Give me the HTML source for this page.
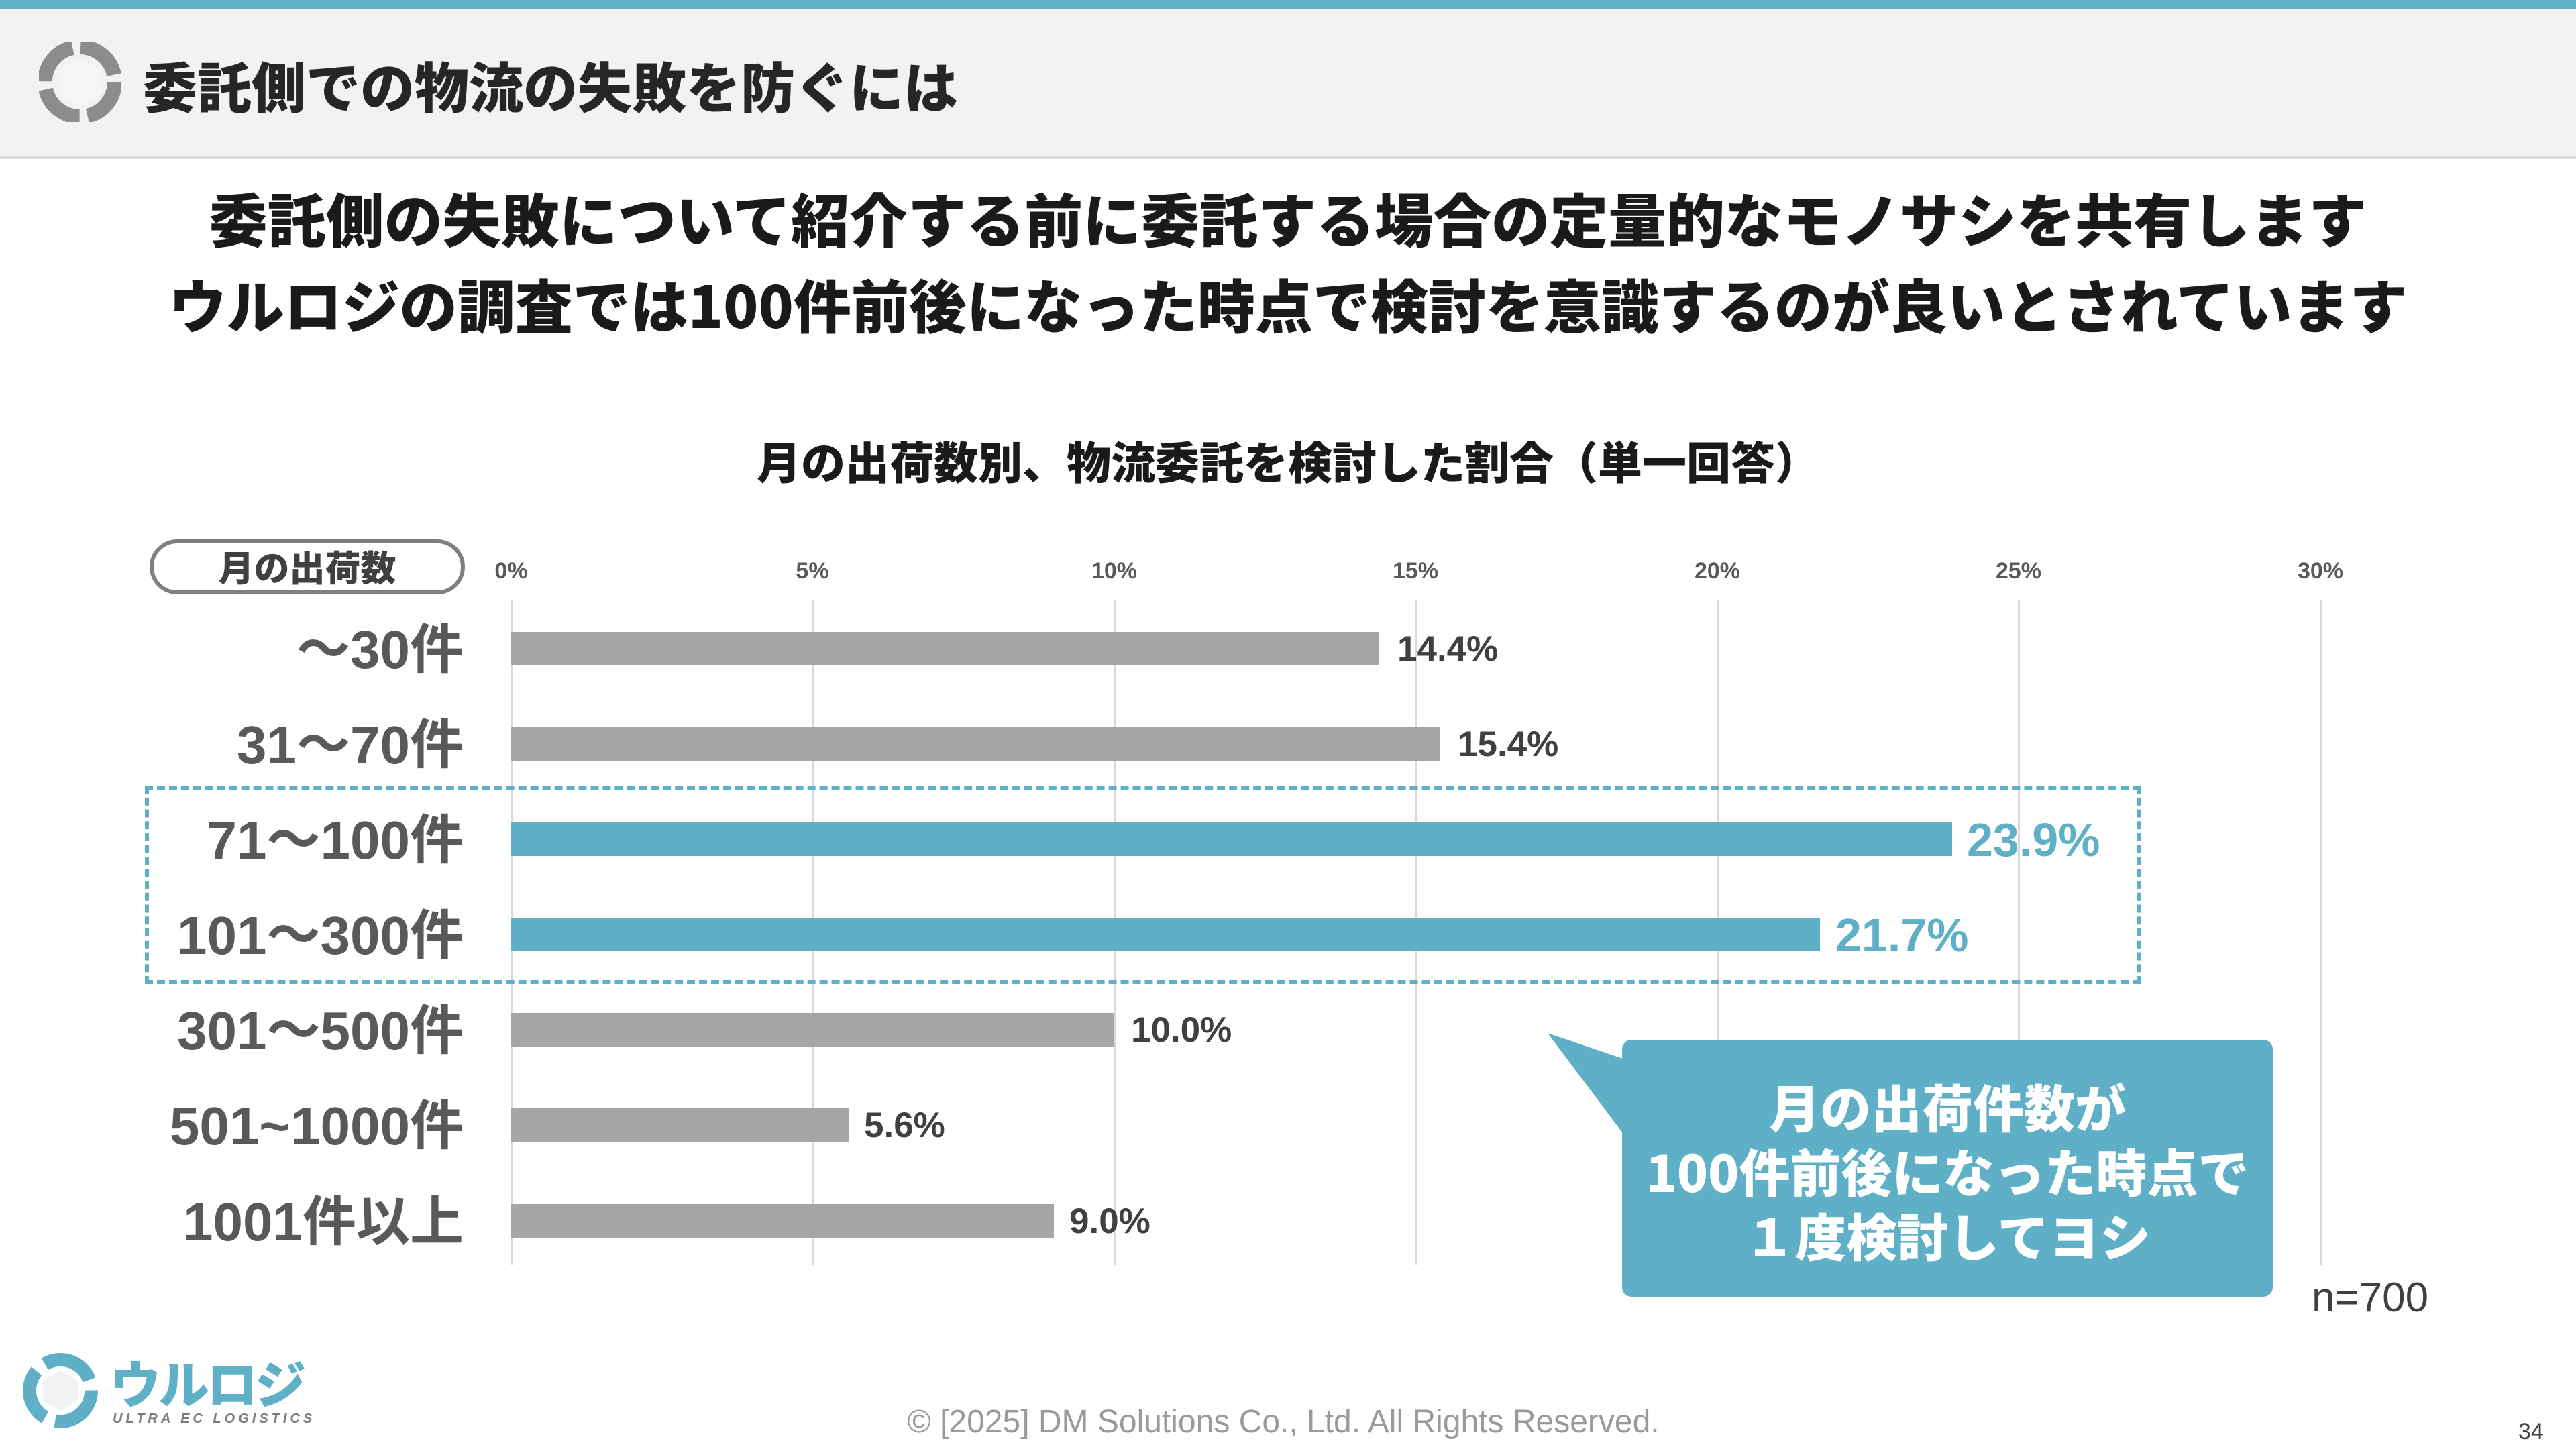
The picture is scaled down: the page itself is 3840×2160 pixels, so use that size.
<!DOCTYPE html>
<html><head><meta charset="utf-8">
<style>
html,body{margin:0;padding:0;}
body{width:3840px;height:2160px;position:relative;background:#fff;overflow:hidden;font-family:"Liberation Sans","Noto Sans CJK JP",sans-serif;}
.a{position:absolute;white-space:nowrap;}
.jp{font-family:"Noto Sans CJK JP","Liberation Sans",sans-serif;font-weight:900;}
.cat{position:absolute;right:3149px;font-size:80px;line-height:80px;color:#595959;font-weight:700;font-family:"Liberation Sans","Noto Sans CJK JP",sans-serif;}
.bar{position:absolute;left:762px;height:50px;background:#a6a6a6;}
.val{position:absolute;font-size:53px;line-height:53px;font-weight:700;color:#404040;}
.hv{font-size:70px;line-height:70px;color:#5fb0c6;}
.grid{position:absolute;top:894px;width:3px;height:992px;background:#d9d9d9;}
.tick{position:absolute;top:834px;font-size:34px;line-height:34px;font-weight:700;color:#595959;transform:translateX(-50%);}
</style></head><body>
<div class="a" style="left:0;top:0;width:3840px;height:14px;background:#60b0c6;"></div>
<div class="a" style="left:0;top:14px;width:3840px;height:218px;background:#f2f2f2;border-bottom:5px solid #dcdcdc;"></div>
<svg class="a" style="left:58px;top:62px" width="122" height="120" viewBox="0 0 122 120">
<circle cx="61" cy="60" r="52" fill="none" stroke="#8c8c8c" stroke-width="22" stroke-dasharray="70 12"/>
<polygon points="61,25 92,43 92,78 61,96 30,78 30,43" fill="#f5f5f5"/>
</svg>
<div class="a jp" style="left:213px;top:84px;font-size:81px;line-height:86px;color:#262626;">委託側での物流の失敗を防ぐには</div>
<div class="a jp" style="left:0;width:3840px;text-align:center;top:274px;font-size:87px;line-height:100px;color:#1a1a1a;">委託側の失敗について紹介する前に委託する場合の定量的なモノサシを共有します</div>
<div class="a jp" style="left:0;width:3840px;text-align:center;top:402px;font-size:86px;line-height:100px;color:#1a1a1a;">ウルロジの調査では100件前後になった時点で検討を意識するのが良いとされています</div>
<div class="a jp" style="left:0;width:3840px;text-align:center;top:648px;font-size:66px;line-height:76px;color:#1a1a1a;">月の出荷数別、物流委託を検討した割合（単一回答）</div>
<div class="a" style="left:223px;top:804px;width:470px;height:82px;border:6px solid #7f7f7f;border-radius:42px;box-sizing:border-box;"></div>
<div class="a jp" style="left:223px;width:470px;text-align:center;top:814px;font-size:53px;line-height:60px;color:#404040;">月の出荷数</div>
<div class="grid" style="left:761px"></div><div class="grid" style="left:1210px"></div><div class="grid" style="left:1660px"></div><div class="grid" style="left:2109px"></div><div class="grid" style="left:2559px"></div><div class="grid" style="left:3008px"></div><div class="grid" style="left:3458px"></div>
<div class="tick" style="left:762px">0%</div><div class="tick" style="left:1211px">5%</div><div class="tick" style="left:1661px">10%</div><div class="tick" style="left:2110px">15%</div><div class="tick" style="left:2560px">20%</div><div class="tick" style="left:3009px">25%</div><div class="tick" style="left:3459px">30%</div>
<div class="cat" style="top:929px">～30件</div>
<div class="cat" style="top:1071px">31～70件</div>
<div class="cat" style="top:1213px">71～100件</div>
<div class="cat" style="top:1355px">101～300件</div>
<div class="cat" style="top:1497px">301～500件</div>
<div class="cat" style="top:1639px">501~1000件</div>
<div class="cat" style="top:1782px">1001件以上</div>
<div class="bar" style="top:942px;width:1294px"></div>
<div class="bar" style="top:1084px;width:1384px"></div>
<div class="bar" style="top:1226px;width:2148px;background:#5fb0c6"></div>
<div class="bar" style="top:1368px;width:1951px;background:#5fb0c6"></div>
<div class="bar" style="top:1510px;width:899px"></div>
<div class="bar" style="top:1652px;width:503px"></div>
<div class="bar" style="top:1795px;width:809px"></div>
<div class="val" style="left:2083px;top:941px">14.4%</div>
<div class="val" style="left:2173px;top:1083px">15.4%</div>
<div class="val hv" style="left:2932px;top:1217px">23.9%</div>
<div class="val hv" style="left:2736px;top:1359px">21.7%</div>
<div class="val" style="left:1686px;top:1509px">10.0%</div>
<div class="val" style="left:1288px;top:1651px">5.6%</div>
<div class="val" style="left:1594px;top:1794px">9.0%</div>
<div class="a" style="left:216px;top:1171px;width:2975px;height:296px;border:6px dashed #5fb0c6;box-sizing:border-box;"></div>
<svg class="a" style="left:2300px;top:1530px" width="140" height="180"><polygon points="7,10 125,50 125,167" fill="#5fb0c6"/></svg>
<div class="a" style="left:2418px;top:1550px;width:970px;height:383px;background:#5fb0c6;border-radius:14px;"></div>
<div class="a jp" style="left:2418px;width:970px;text-align:center;top:1600px;font-size:76px;line-height:96px;color:#fff;white-space:normal;">月の出荷件数が<br>100件前後になった時点で<br>１度検討してヨシ</div>
<div class="a" style="left:3446px;top:1902px;font-size:62px;line-height:66px;color:#404040;">n=700</div>
<svg class="a" style="left:32px;top:2015px" width="116" height="116" viewBox="0 0 116 116">
<circle cx="58" cy="58" r="46" fill="none" stroke="#5fb0c6" stroke-width="20" stroke-dasharray="80 16"/>
<polygon points="58,28 84,43 84,73 58,88 32,73 32,43" fill="#f2f2f2"/>
</svg>
<div class="a jp" style="left:164px;top:2016px;font-size:76px;line-height:86px;color:#5fb0c6;letter-spacing:-4px;">ウルロジ</div>
<div class="a" style="left:168px;top:2104px;font-size:20px;line-height:22px;font-weight:700;font-style:italic;color:#7a7a7a;letter-spacing:5px;">ULTRA EC LOGISTICS</div>
<div class="a" style="left:0;width:3826px;text-align:center;top:2093px;font-size:48px;line-height:54px;color:#9a9a9a;">© [2025] DM Solutions Co., Ltd. All Rights Reserved.</div>
<div class="a" style="left:3754px;top:2116px;font-size:34px;line-height:36px;color:#404040;">34</div>
</body></html>
